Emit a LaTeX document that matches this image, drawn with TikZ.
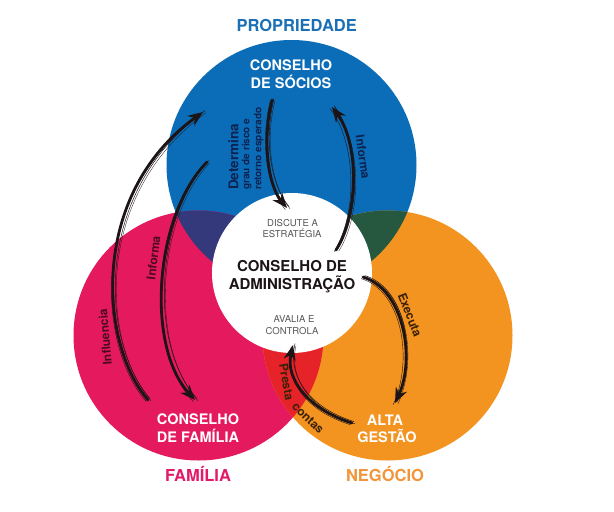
\documentclass[tikz,border=0pt]{standalone}
\usepackage{fontspec}
\setmainfont{TeX Gyre Heros}
\usetikzlibrary{arrows.meta}
\definecolor{cblue}{HTML}{0B6DB7}
\definecolor{cpink}{HTML}{E5195E}
\definecolor{corange}{HTML}{F39320}
\definecolor{cnavy}{HTML}{33397A}
\definecolor{cgreen}{HTML}{26573F}
\definecolor{cred}{HTML}{E52329}
\definecolor{tblue}{HTML}{1B6FB5}
\definecolor{tpink}{HTML}{E3196A}
\definecolor{torange}{HTML}{F2953A}
\definecolor{cgray}{HTML}{555555}
\definecolor{inkc}{HTML}{1C1416}
\definecolor{lblblue}{HTML}{0D2350}
\definecolor{lblpink}{HTML}{4A0B22}
\definecolor{lblorange}{HTML}{3B2106}
\begin{document}
\begin{tikzpicture}[x=1pt,y=-1pt,
  venn/.style={circle, minimum size=250pt, inner sep=0pt, outer sep=0pt},
  title/.style={font=\fontsize{16.5}{18}\selectfont\bfseries, anchor=base, inner sep=0pt},
  wlabel/.style={font=\fontsize{14.5}{16}\selectfont\bfseries, text=white, anchor=base, inner sep=0pt},
  ctitle/.style={font=\fontsize{15}{17}\selectfont\bfseries, text=inkc, anchor=base, inner sep=0pt},
  smalltxt/.style={font=\fontsize{9.5}{11}\selectfont, text=cgray, anchor=base, inner sep=0pt},
  lbl/.style={font=\fontsize{12}{13}\selectfont\bfseries, inner sep=0pt},
  brush/.style={draw=inkc, line width=2.8pt, line cap=round, -{Stealth[length=15pt,width=12pt]},
    postaction={draw=inkc, -, line width=0.5pt, transform canvas={shift={(2pt,1.4pt)}}},
    postaction={draw=inkc, -, line width=0.4pt, transform canvas={shift={(-1.8pt,-1.6pt)}}},
    postaction={draw=inkc, -, line width=0.3pt, transform canvas={shift={(3pt,-0.7pt)}}}},
]
\useasboundingbox (0,0) rectangle (614,512);
\fill[white] (0,0) rectangle (614,512);

% Venn circles
\node[venn, fill=cblue] (prop) at (291.5,165) {};
\node[venn, fill=cpink] (fam) at (198.5,335.5) {};
\node[venn, fill=corange] (neg) at (387.5,335.5) {};
\begin{scope}
  \clip (291.5,165) circle[radius=125pt];
  \fill[cnavy] (198.5,335.5) circle[radius=125pt];
  \fill[cgreen] (387.5,335.5) circle[radius=125pt];
\end{scope}
\begin{scope}
  \clip (198.5,335.5) circle[radius=125pt];
  \fill[cred] (387.5,335.5) circle[radius=125pt];
\end{scope}
\node[circle, fill=white, minimum size=160pt, inner sep=0pt] (adm) at (292,273) {};

% titles
\node[title, text=tblue] (tprop) at (296.7,31.7) {PROPRIEDADE};
\node[title, text=tpink] (tfam) at (198,481.7) {FAMÍLIA};
\node[title, text=torange] (tneg) at (385,481.7) {NEGÓCIO};

\node[wlabel] (socA) at (291,70.7) {CONSELHO};
\node[wlabel] (socB) at (291,88.3) {DE SÓCIOS};
\node[wlabel] (famA) at (198,424.3) {CONSELHO};
\node[wlabel] (famB) at (198,442.3) {DE FAMÍLIA};
\node[wlabel] (altA) at (385,425) {ALTA};
\node[wlabel] (altB) at (387,442.3) {GESTÃO};

\node[ctitle] (admA) at (292,271.7) {CONSELHO DE};
\node[ctitle] (admB) at (292,289) {ADMINISTRAÇÃO};
\node[smalltxt] (disA) at (292.5,226) {DISCUTE A};
\node[smalltxt] (disB) at (292,237.3) {ESTRATÉGIA};
\node[smalltxt] (avaA) at (294,322.3) {AVALIA E};
\node[smalltxt] (avaB) at (292,334) {CONTROLA};

% arrows
\coordinate (a1s) at (148,400); \coordinate (a1e) at (203,112);
\draw[brush] (a1s) .. controls (100,345) and (88,195) .. (a1e);
\coordinate (a2s) at (207,162); \coordinate (a2e) at (195,400);
\draw[brush] (a2s) .. controls (155,215) and (145,345) .. (a2e);
\coordinate (a3s) at (272,100); \coordinate (a3e) at (287,208);
\draw[brush] (a3s) .. controls (262,140) and (268,185) .. (a3e);
\coordinate (a4s) at (336,250); \coordinate (a4e) at (332,107);
\draw[brush] (a4s) .. controls (358,215) and (360,145) .. (a4e);
\coordinate (a5s) at (363,277); \coordinate (a5e) at (395,403);
\draw[brush] (a5s) .. controls (405,290) and (415,360) .. (a5e);
\coordinate (a6s) at (352,423); \coordinate (a6e) at (293,345);
\draw[brush] (a6s) .. controls (310,410) and (285,380) .. (a6e);

% labels
\node[lbl, text=lblpink, rotate=95] (linf) at (105,337) {Influencia};
\node[lbl, text=lblpink, rotate=83] (linfo) at (153.5,258) {Informa};
\node[lbl, text=lblblue, rotate=-82] (linfo2) at (363,157) {Informa};
\node[lbl, text=lblorange, rotate=-69] (lexe) at (410,315) {Executa};
\node[lbl, text=lblorange, rotate=-80] (lpre) at (286.5,382) {Presta};
\node[lbl, text=lblorange, rotate=-44] (lcon) at (308,418) {contas};
\node[inner sep=0pt, text=lblblue, rotate=90, anchor=west, align=left] (ldet) at (246,190)
  {\fontsize{13.5}{15}\selectfont\bfseries Determina\\[-1pt]
   \fontsize{10}{12.5}\selectfont\bfseries grau de risco e\\
   \fontsize{10}{12.5}\selectfont\bfseries retorno esperado};
\end{tikzpicture}
\end{document}
